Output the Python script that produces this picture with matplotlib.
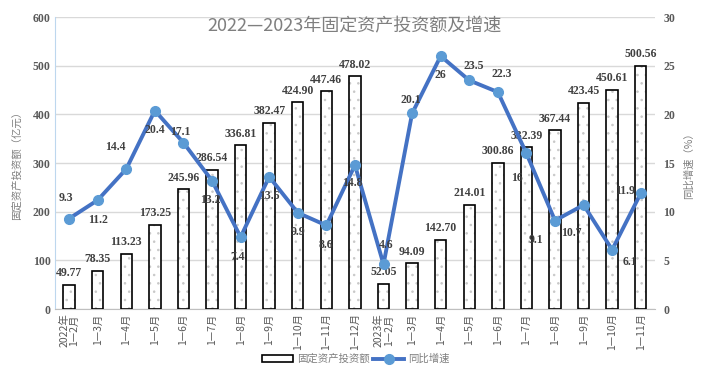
import matplotlib
matplotlib.use("Agg")
import matplotlib.pyplot as plt
from matplotlib.font_manager import FontProperties
from matplotlib.patches import Patch
from matplotlib.lines import Line2D
import numpy as np

plt.rcParams['font.family'] = ['Noto Sans CJK SC', 'DejaVu Sans']
plt.rcParams['hatch.linewidth'] = 0.6

months = ['2022年\n1—2月', '1—3月', '1—4月', '1—5月', '1—6月', '1—7月', '1—8月',
          '1—9月', '1—10月', '1—11月', '1—12月',
          '2023年\n1—2月', '1—3月', '1—4月', '1—5月', '1—6月', '1—7月', '1—8月',
          '1—9月', '1—10月', '1—11月']
invest = [49.77, 78.35, 113.23, 173.25, 245.96, 286.54, 336.81, 382.47, 424.90, 447.46, 478.02,
          52.05, 94.09, 142.70, 214.01, 300.86, 332.39, 367.44, 423.45, 450.61, 500.56]
growth = [9.3, 11.2, 14.4, 20.4, 17.1, 13.2, 7.4, 13.6, 9.9, 8.6, 14.8,
          4.6, 20.1, 26, 23.5, 22.3, 16, 9.1, 10.7, 6.1, 11.9]
# label offsets (points) for growth labels
g_off = [(-2, 15), (0, -14), (-8, 16), (0, -14), (-2, 8), (-1, -14), (-2, -14), (0, -14),
         (0, -14), (0, -14), (-2, -13), (2, 14), (-1, 10), (0, -14), (3, 10), (3, 13),
         (-7, -18), (-14, -14), (-9, -20), (13, -9), (-11, 2)]

num_font = dict(family=['Liberation Serif', 'Noto Sans CJK SC'], weight='bold')
gray = '#595959'

fig = plt.figure(figsize=(7.12, 3.72), dpi=100)
ax = fig.add_axes([0.077, 0.169, 0.843, 0.785])
ax2 = ax.twinx()

x = np.arange(len(months))
w = 0.4
ax.bar(x, invest, w, color='white', edgecolor='#c8c8c8', hatch='..', linewidth=0, zorder=2)
ax.bar(x, invest, w, fill=False, edgecolor='black', linewidth=1.2, zorder=3)
for xi, v in zip(x, invest):
    ax.annotate(f'{v:.2f}', (xi, v), xytext=(0, 4), textcoords='offset points',
                ha='center', va='bottom', fontsize=8.5, color='#404040', **num_font)

ax.set_ylim(0, 600)
ax.set_yticks(range(0, 601, 100))
ax.set_xlim(-0.5, len(months) - 0.5)
ax.set_xticks(x)
ax.set_xticklabels(months, rotation=90, fontsize=7.5, color=gray, linespacing=1.0)
ax.grid(axis='y', color='#d9d9d9', linewidth=1, zorder=0)
ax.set_axisbelow(True)
for lab in ax.get_yticklabels():
    lab.set_fontproperties(FontProperties(family='Liberation Serif', weight='bold', size=8.5))
    lab.set_color(gray)
ax.set_ylabel('固定资产投资额（亿元）', fontsize=7.5, color='#7f7f7f', labelpad=8)
ax.tick_params(length=0, pad=3)

ax2.plot(x, growth, color='#4472C4', linewidth=2.8, marker='o', markersize=7,
         markerfacecolor='#5B9BD5', markeredgecolor='#5B9BD5', zorder=2)
for xi, v, (dx, dy) in zip(x, growth, g_off):
    ax2.annotate(f'{v:g}', (xi, v), xytext=(dx, dy), textcoords='offset points',
                 ha='center', va='center', fontsize=8.5, color='#404040', zorder=6, **num_font)
ax2.set_ylim(0, 30)
ax2.set_yticks(range(0, 31, 5))
for lab in ax2.get_yticklabels():
    lab.set_fontproperties(FontProperties(family='Liberation Serif', weight='bold', size=8.5))
    lab.set_color(gray)
ax2.set_ylabel('同比增速（%）', fontsize=7.5, color='#7f7f7f', rotation=90, labelpad=6)
ax2.tick_params(length=0, pad=6)

for a in (ax, ax2):
    for s in ['top', 'right', 'left']:
        a.spines[s].set_visible(False)
ax.spines['left'].set_visible(True)
ax.spines['left'].set_color('#bdd7ee')
ax.spines['bottom'].set_color('#bfbfbf')
ax2.spines['bottom'].set_visible(False)

ax.set_title('2022—2023年固定资产投资额及增速', fontsize=13, color='#7f7f7f', y=0.95, pad=0)

handles = [Patch(facecolor='white', edgecolor='black', linewidth=1.2),
           Line2D([], [], color='#4472C4', linewidth=2.8, marker='o', markersize=7,
                  markerfacecolor='#5B9BD5', markeredgecolor='#5B9BD5')]
fig.legend(handles, ['固定资产投资额', '同比增速'], loc='center', bbox_to_anchor=(0.5, 0.035),
           ncol=2, frameon=False, fontsize=7.5, labelcolor='#7f7f7f', handlelength=3,
           handleheight=0.6, columnspacing=0.3, handletextpad=0.4, borderpad=0)

fig.savefig('out.png', dpi=100)
